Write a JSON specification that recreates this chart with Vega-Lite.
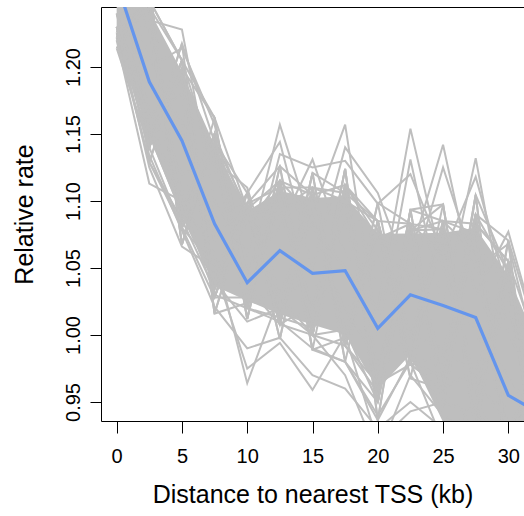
{
"$schema": "https://vega.github.io/schema/vega-lite/v6.json",
"usermeta": {"embedOptions": {"actions": false}},
"autosize": {"type": "none"},
"padding": {"left": 101, "top": 7, "right": 0, "bottom": 95},
"width": 423,
"height": 414,
"background": "white",
"config": {"view": {"stroke": null}, "font": "Liberation Sans"},
"datasets": {
"core": [
{"x":0,"lo":1.2275,"hi":1.2945},{"x":2.5,"lo":1.1477,"hi":1.2423},{"x":5,"lo":1.0888,"hi":1.1963},{"x":7.5,"lo":1.0365,"hi":1.1415},{"x":10,"lo":1.0255,"hi":1.0925},{"x":12.5,"lo":1.0155,"hi":1.1075},{"x":15,"lo":1.0077,"hi":1.1023},{"x":17.5,"lo":1.0004,"hi":1.1036},{"x":20,"lo":0.9595,"hi":1.0756},{"x":22.5,"lo":0.9854,"hi":1.0757},{"x":25,"lo":0.935,"hi":1.0763},{"x":27.5,"lo":0.925,"hi":1.0799},{"x":30,"lo":0.880,"hi":1.0442},{"x":32.5,"lo":0.860,"hi":0.987}
],
"est": [
{"x":0,"y":1.263},{"x":2.5,"y":1.189},{"x":5,"y":1.145},{"x":7.5,"y":1.083},{"x":10,"y":1.039},{"x":12.5,"y":1.063},{"x":15,"y":1.046},{"x":17.5,"y":1.048},{"x":20,"y":1.005},{"x":22.5,"y":1.030},{"x":25,"y":1.022},{"x":27.5,"y":1.013},{"x":30,"y":0.955},{"x":32.5,"y":0.941}
],
"reps": [
{"r":1,"x":0,"y":1.300},{"r":1,"x":2.5,"y":1.140},{"r":1,"x":5,"y":1.2175},{"r":1,"x":7.5,"y":1.034},{"r":1,"x":10,"y":1.098},{"r":1,"x":12.5,"y":1.110},{"r":1,"x":15,"y":1.000},{"r":1,"x":17.5,"y":1.124},{"r":1,"x":20,"y":0.9365},{"r":1,"x":22.5,"y":1.083},{"r":1,"x":25,"y":0.966},{"r":1,"x":27.5,"y":1.090},{"r":1,"x":30,"y":0.900},{"r":1,"x":32.5,"y":0.989},
{"r":2,"x":0,"y":1.222},{"r":2,"x":2.5,"y":1.250},{"r":2,"x":5,"y":1.086},{"r":2,"x":7.5,"y":1.150},{"r":2,"x":10,"y":1.012},{"r":2,"x":12.5,"y":1.126},{"r":2,"x":15,"y":1.1045},{"r":2,"x":17.5,"y":0.992},{"r":2,"x":20,"y":1.085},{"r":2,"x":22.5,"y":0.983},{"r":2,"x":25,"y":1.0975},{"r":2,"x":27.5,"y":0.945},{"r":2,"x":30,"y":1.055},{"r":2,"x":32.5,"y":0.880},
{"r":3,"x":0,"y":1.296},{"r":3,"x":2.5,"y":1.261},{"r":3,"x":5,"y":1.080},{"r":3,"x":7.5,"y":1.028},{"r":3,"x":10,"y":1.106},{"r":3,"x":12.5,"y":1.008},{"r":3,"x":15,"y":1.110},{"r":3,"x":17.5,"y":0.998},{"r":3,"x":20,"y":1.078},{"r":3,"x":22.5,"y":0.9675},{"r":3,"x":25,"y":1.085},{"r":3,"x":27.5,"y":1.083},{"r":3,"x":30,"y":0.8845},{"r":3,"x":32.5,"y":0.995},
{"r":4,"x":0,"y":1.226},{"r":4,"x":2.5,"y":1.129},{"r":4,"x":5,"y":1.205},{"r":4,"x":7.5,"y":1.162},{"r":4,"x":10,"y":1.024},{"r":4,"x":12.5,"y":1.115},{"r":4,"x":15,"y":0.989},{"r":4,"x":17.5,"y":1.106},{"r":4,"x":20,"y":0.950},{"r":4,"x":22.5,"y":1.0935},{"r":4,"x":25,"y":0.960},{"r":4,"x":27.5,"y":0.9305},{"r":4,"x":30,"y":1.047},{"r":4,"x":32.5,"y":0.886},
{"r":5,"x":0,"y":1.308},{"r":5,"x":2.5,"y":1.1455},{"r":5,"x":5,"y":1.199},{"r":5,"x":7.5,"y":1.016},{"r":5,"x":10,"y":1.094},{"r":5,"x":12.5,"y":1.013},{"r":5,"x":15,"y":1.121},{"r":5,"x":17.5,"y":0.992},{"r":5,"x":20,"y":1.0985},{"r":5,"x":22.5,"y":1.083},{"r":5,"x":25,"y":0.9475},{"r":5,"x":27.5,"y":1.1045},{"r":5,"x":30,"y":0.908},{"r":5,"x":32.5,"y":1.0065},
{"r":6,"x":0,"y":1.214},{"r":6,"x":2.5,"y":1.2445},{"r":6,"x":5,"y":1.0675},{"r":6,"x":7.5,"y":1.144},{"r":6,"x":10,"y":1.020},{"r":6,"x":12.5,"y":1.126},{"r":6,"x":15,"y":1.0055},{"r":6,"x":17.5,"y":1.112},{"r":6,"x":20,"y":0.957},{"r":6,"x":22.5,"y":1.078},{"r":6,"x":25,"y":1.079},{"r":6,"x":27.5,"y":0.945},{"r":6,"x":30,"y":1.0705},{"r":6,"x":32.5,"y":0.8685},
{"r":7,"x":0,"y":1.300},{"r":7,"x":2.5,"y":1.140},{"r":7,"x":5,"y":1.205},{"r":7,"x":7.5,"y":1.028},{"r":7,"x":10,"y":1.098},{"r":7,"x":12.5,"y":0.997},{"r":7,"x":15,"y":1.110},{"r":7,"x":17.5,"y":0.980},{"r":7,"x":20,"y":1.085},{"r":7,"x":22.5,"y":0.978},{"r":7,"x":25,"y":1.085},{"r":7,"x":27.5,"y":0.952},{"r":7,"x":30,"y":1.055},{"r":7,"x":32.5,"y":0.880},
{"r":8,"x":0,"y":1.222},{"r":8,"x":2.5,"y":1.261},{"r":8,"x":5,"y":1.080},{"r":8,"x":7.5,"y":1.150},{"r":8,"x":10,"y":1.020},{"r":8,"x":12.5,"y":1.115},{"r":8,"x":15,"y":1.000},{"r":8,"x":17.5,"y":1.112},{"r":8,"x":20,"y":0.950},{"r":8,"x":22.5,"y":1.0935},{"r":8,"x":25,"y":0.960},{"r":8,"x":27.5,"y":1.090},{"r":8,"x":30,"y":0.900},{"r":8,"x":32.5,"y":0.995},
{"r":9,"x":0,"y":1.296},{"r":9,"x":2.5,"y":1.129},{"r":9,"x":5,"y":1.086},{"r":9,"x":7.5,"y":1.144},{"r":9,"x":10,"y":1.106},{"r":9,"x":12.5,"y":1.013},{"r":9,"x":15,"y":1.0055},{"r":9,"x":17.5,"y":1.124},{"r":9,"x":20,"y":0.9365},{"r":9,"x":22.5,"y":0.983},{"r":9,"x":25,"y":1.079},{"r":9,"x":27.5,"y":0.9305},{"r":9,"x":30,"y":1.0705},{"r":9,"x":32.5,"y":0.989},
{"r":10,"x":0,"y":1.226},{"r":10,"x":2.5,"y":1.250},{"r":10,"x":5,"y":1.205},{"r":10,"x":7.5,"y":1.016},{"r":10,"x":10,"y":1.024},{"r":10,"x":12.5,"y":1.110},{"r":10,"x":15,"y":1.110},{"r":10,"x":17.5,"y":0.998},{"r":10,"x":20,"y":1.085},{"r":10,"x":22.5,"y":1.083},{"r":10,"x":25,"y":0.966},{"r":10,"x":27.5,"y":1.1045},{"r":10,"x":30,"y":0.908},{"r":10,"x":32.5,"y":0.8685},
{"r":11,"x":0,"y":1.308},{"r":11,"x":2.5,"y":1.2445},{"r":11,"x":5,"y":1.0675},{"r":11,"x":7.5,"y":1.150},{"r":11,"x":10,"y":1.012},{"r":11,"x":12.5,"y":1.115},{"r":11,"x":15,"y":1.000},{"r":11,"x":17.5,"y":0.992},{"r":11,"x":20,"y":0.957},{"r":11,"x":22.5,"y":1.0935},{"r":11,"x":25,"y":1.0975},{"r":11,"x":27.5,"y":0.952},{"r":11,"x":30,"y":0.900},{"r":11,"x":32.5,"y":0.995},
{"r":12,"x":0,"y":1.214},{"r":12,"x":2.5,"y":1.140},{"r":12,"x":5,"y":1.2175},{"r":12,"x":7.5,"y":1.144},{"r":12,"x":10,"y":1.094},{"r":12,"x":12.5,"y":1.008},{"r":12,"x":15,"y":1.1045},{"r":12,"x":17.5,"y":1.112},{"r":12,"x":20,"y":1.078},{"r":12,"x":22.5,"y":0.978},{"r":12,"x":25,"y":0.960},{"r":12,"x":27.5,"y":1.090},{"r":12,"x":30,"y":1.047},{"r":12,"x":32.5,"y":0.886},
{"r":13,"x":0,"y":1.300},{"r":13,"x":2.5,"y":1.250},{"r":13,"x":5,"y":1.086},{"r":13,"x":7.5,"y":1.034},{"r":13,"x":10,"y":1.098},{"r":13,"x":12.5,"y":1.126},{"r":13,"x":15,"y":0.989},{"r":13,"x":17.5,"y":0.980},{"r":13,"x":20,"y":0.9365},{"r":13,"x":22.5,"y":1.078},{"r":13,"x":25,"y":1.085},{"r":13,"x":27.5,"y":0.945},{"r":13,"x":30,"y":0.8845},{"r":13,"x":32.5,"y":1.0065},
{"r":14,"x":0,"y":1.222},{"r":14,"x":2.5,"y":1.1455},{"r":14,"x":5,"y":1.199},{"r":14,"x":7.5,"y":1.162},{"r":14,"x":10,"y":1.020},{"r":14,"x":12.5,"y":1.013},{"r":14,"x":15,"y":1.121},{"r":14,"x":17.5,"y":1.106},{"r":14,"x":20,"y":1.085},{"r":14,"x":22.5,"y":0.983},{"r":14,"x":25,"y":0.9475},{"r":14,"x":27.5,"y":1.083},{"r":14,"x":30,"y":1.055},{"r":14,"x":32.5,"y":0.880},
{"r":15,"x":0,"y":1.296},{"r":15,"x":2.5,"y":1.140},{"r":15,"x":5,"y":1.205},{"r":15,"x":7.5,"y":1.028},{"r":15,"x":10,"y":1.094},{"r":15,"x":12.5,"y":1.008},{"r":15,"x":15,"y":1.000},{"r":15,"x":17.5,"y":1.124},{"r":15,"x":20,"y":0.957},{"r":15,"x":22.5,"y":1.083},{"r":15,"x":25,"y":1.079},{"r":15,"x":27.5,"y":0.9305},{"r":15,"x":30,"y":0.908},{"r":15,"x":32.5,"y":0.989},
{"r":16,"x":0,"y":1.226},{"r":16,"x":2.5,"y":1.261},{"r":16,"x":5,"y":1.080},{"r":16,"x":7.5,"y":1.144},{"r":16,"x":10,"y":1.024},{"r":16,"x":12.5,"y":1.115},{"r":16,"x":15,"y":1.1045},{"r":16,"x":17.5,"y":0.992},{"r":16,"x":20,"y":1.0985},{"r":16,"x":22.5,"y":0.978},{"r":16,"x":25,"y":0.960},{"r":16,"x":27.5,"y":1.090},{"r":16,"x":30,"y":1.0705},{"r":16,"x":32.5,"y":0.886},
{"r":17,"x":0,"y":1.308},{"r":17,"x":2.5,"y":1.129},{"r":17,"x":5,"y":1.199},{"r":17,"x":7.5,"y":1.016},{"r":17,"x":10,"y":1.098},{"r":17,"x":12.5,"y":0.997},{"r":17,"x":15,"y":1.110},{"r":17,"x":17.5,"y":1.106},{"r":17,"x":20,"y":0.950},{"r":17,"x":22.5,"y":1.0935},{"r":17,"x":25,"y":1.085},{"r":17,"x":27.5,"y":0.945},{"r":17,"x":30,"y":0.900},{"r":17,"x":32.5,"y":0.995},
{"r":18,"x":0,"y":1.214},{"r":18,"x":2.5,"y":1.250},{"r":18,"x":5,"y":1.0675},{"r":18,"x":7.5,"y":1.150},{"r":18,"x":10,"y":1.012},{"r":18,"x":12.5,"y":1.110},{"r":18,"x":15,"y":0.989},{"r":18,"x":17.5,"y":0.998},{"r":18,"x":20,"y":1.078},{"r":18,"x":22.5,"y":0.983},{"r":18,"x":25,"y":0.966},{"r":18,"x":27.5,"y":1.1045},{"r":18,"x":30,"y":1.047},{"r":18,"x":32.5,"y":0.8685},
{"r":19,"x":0,"y":1.300},{"r":19,"x":2.5,"y":1.2445},{"r":19,"x":5,"y":1.205},{"r":19,"x":7.5,"y":1.034},{"r":19,"x":10,"y":1.106},{"r":19,"x":12.5,"y":1.008},{"r":19,"x":15,"y":1.121},{"r":19,"x":17.5,"y":0.980},{"r":19,"x":20,"y":0.950},{"r":19,"x":22.5,"y":1.078},{"r":19,"x":25,"y":1.0975},{"r":19,"x":27.5,"y":0.952},{"r":19,"x":30,"y":0.8845},{"r":19,"x":32.5,"y":0.989},
{"r":20,"x":0,"y":1.222},{"r":20,"x":2.5,"y":1.129},{"r":20,"x":5,"y":1.080},{"r":20,"x":7.5,"y":1.162},{"r":20,"x":10,"y":1.094},{"r":20,"x":12.5,"y":1.115},{"r":20,"x":15,"y":1.000},{"r":20,"x":17.5,"y":1.112},{"r":20,"x":20,"y":1.085},{"r":20,"x":22.5,"y":0.9675},{"r":20,"x":25,"y":0.960},{"r":20,"x":27.5,"y":1.083},{"r":20,"x":30,"y":1.055},{"r":20,"x":32.5,"y":0.880},
{"r":21,"x":0,"y":1.27},{"r":21,"x":2.5,"y":1.235},{"r":21,"x":5,"y":1.228},{"r":21,"x":7.5,"y":1.10},{"r":21,"x":10,"y":1.06},{"r":21,"x":12.5,"y":1.157},{"r":21,"x":15,"y":1.08},{"r":21,"x":17.5,"y":1.05},{"r":21,"x":20,"y":1.02},{"r":21,"x":22.5,"y":1.154},{"r":21,"x":25,"y":1.05},{"r":21,"x":27.5,"y":1.00},{"r":21,"x":30,"y":0.97},{"r":21,"x":32.5,"y":0.93},
{"r":22,"x":0,"y":1.25},{"r":22,"x":2.5,"y":1.20},{"r":22,"x":5,"y":1.214},{"r":22,"x":7.5,"y":1.157},{"r":22,"x":10,"y":1.05},{"r":22,"x":12.5,"y":1.08},{"r":22,"x":15,"y":1.131},{"r":22,"x":17.5,"y":1.06},{"r":22,"x":20,"y":1.04},{"r":22,"x":22.5,"y":1.06},{"r":22,"x":25,"y":1.142},{"r":22,"x":27.5,"y":1.03},{"r":22,"x":30,"y":1.077},{"r":22,"x":32.5,"y":0.99},
{"r":23,"x":0,"y":1.24},{"r":23,"x":2.5,"y":1.17},{"r":23,"x":5,"y":1.12},{"r":23,"x":7.5,"y":1.13},{"r":23,"x":10,"y":1.110},{"r":23,"x":12.5,"y":1.03},{"r":23,"x":15,"y":1.09},{"r":23,"x":17.5,"y":1.157},{"r":23,"x":20,"y":1.00},{"r":23,"x":22.5,"y":1.131},{"r":23,"x":25,"y":1.02},{"r":23,"x":27.5,"y":1.132},{"r":23,"x":30,"y":1.00},{"r":23,"x":32.5,"y":0.96},
{"r":24,"x":0,"y":1.23},{"r":24,"x":2.5,"y":1.19},{"r":24,"x":5,"y":1.16},{"r":24,"x":7.5,"y":1.07},{"r":24,"x":10,"y":1.106},{"r":24,"x":12.5,"y":1.144},{"r":24,"x":15,"y":1.05},{"r":24,"x":17.5,"y":1.140},{"r":24,"x":20,"y":1.106},{"r":24,"x":22.5,"y":1.04},{"r":24,"x":25,"y":1.125},{"r":24,"x":27.5,"y":1.05},{"r":24,"x":30,"y":1.068},{"r":24,"x":32.5,"y":0.97},
{"r":25,"x":0,"y":1.26},{"r":25,"x":2.5,"y":1.21},{"r":25,"x":5,"y":1.15},{"r":25,"x":7.5,"y":1.09},{"r":25,"x":10,"y":1.04},{"r":25,"x":12.5,"y":1.135},{"r":25,"x":15,"y":1.125},{"r":25,"x":17.5,"y":1.13},{"r":25,"x":20,"y":1.098},{"r":25,"x":22.5,"y":1.12},{"r":25,"x":25,"y":1.06},{"r":25,"x":27.5,"y":1.118},{"r":25,"x":30,"y":1.03},{"r":25,"x":32.5,"y":0.98},
{"r":26,"x":0,"y":1.22},{"r":26,"x":2.5,"y":1.113},{"r":26,"x":5,"y":1.10},{"r":26,"x":7.5,"y":1.06},{"r":26,"x":10,"y":0.964},{"r":26,"x":12.5,"y":1.03},{"r":26,"x":15,"y":1.04},{"r":26,"x":17.5,"y":1.02},{"r":26,"x":20,"y":0.98},{"r":26,"x":22.5,"y":1.00},{"r":26,"x":25,"y":0.99},{"r":26,"x":27.5,"y":0.97},{"r":26,"x":30,"y":0.93},{"r":26,"x":32.5,"y":0.89},
{"r":27,"x":0,"y":1.23},{"r":27,"x":2.5,"y":1.125},{"r":27,"x":5,"y":1.066},{"r":27,"x":7.5,"y":1.05},{"r":27,"x":10,"y":0.975},{"r":27,"x":12.5,"y":0.994},{"r":27,"x":15,"y":0.959},{"r":27,"x":17.5,"y":1.00},{"r":27,"x":20,"y":0.92},{"r":27,"x":22.5,"y":0.943},{"r":27,"x":25,"y":0.95},{"r":27,"x":27.5,"y":0.94},{"r":27,"x":30,"y":0.90},{"r":27,"x":32.5,"y":0.87},
{"r":28,"x":0,"y":1.24},{"r":28,"x":2.5,"y":1.134},{"r":28,"x":5,"y":1.078},{"r":28,"x":7.5,"y":1.021},{"r":28,"x":10,"y":0.99},{"r":28,"x":12.5,"y":0.998},{"r":28,"x":15,"y":0.97},{"r":28,"x":17.5,"y":0.960},{"r":28,"x":20,"y":0.93},{"r":28,"x":22.5,"y":0.95},{"r":28,"x":25,"y":0.93},{"r":28,"x":27.5,"y":0.92},{"r":28,"x":30,"y":0.88},{"r":28,"x":32.5,"y":0.86},
{"r":29,"x":0,"y":1.225},{"r":29,"x":2.5,"y":1.15},{"r":29,"x":5,"y":1.09},{"r":29,"x":7.5,"y":1.04},{"r":29,"x":10,"y":1.01},{"r":29,"x":12.5,"y":1.02},{"r":29,"x":15,"y":1.00},{"r":29,"x":17.5,"y":0.970},{"r":29,"x":20,"y":0.91},{"r":29,"x":22.5,"y":0.97},{"r":29,"x":25,"y":0.94},{"r":29,"x":27.5,"y":0.93},{"r":29,"x":30,"y":0.89},{"r":29,"x":32.5,"y":0.88},
{"r":30,"x":0,"y":1.23},{"r":30,"x":2.5,"y":1.16},{"r":30,"x":5,"y":1.10},{"r":30,"x":7.5,"y":1.03},{"r":30,"x":10,"y":1.02},{"r":30,"x":12.5,"y":1.01},{"r":30,"x":15,"y":0.99},{"r":30,"x":17.5,"y":0.98},{"r":30,"x":20,"y":0.94},{"r":30,"x":22.5,"y":0.98},{"r":30,"x":25,"y":0.92},{"r":30,"x":27.5,"y":0.95},{"r":30,"x":30,"y":0.91},{"r":30,"x":32.5,"y":0.90},
{"r":31,"x":0,"y":1.222},{"r":31,"x":2.5,"y":1.239},{"r":31,"x":5,"y":1.093},{"r":31,"x":7.5,"y":1.150},{"r":31,"x":10,"y":1.020},{"r":31,"x":12.5,"y":1.104},{"r":31,"x":15,"y":1.011},{"r":31,"x":17.5,"y":1.112},{"r":31,"x":20,"y":0.950},{"r":31,"x":22.5,"y":1.073},{"r":31,"x":25,"y":0.973},{"r":31,"x":27.5,"y":1.090},{"r":31,"x":30,"y":0.900},{"r":31,"x":32.5,"y":0.984},
{"r":32,"x":0,"y":1.300},{"r":32,"x":2.5,"y":1.151},{"r":32,"x":5,"y":1.193},{"r":32,"x":7.5,"y":1.028},{"r":32,"x":10,"y":1.098},{"r":32,"x":12.5,"y":1.019},{"r":32,"x":15,"y":1.099},{"r":32,"x":17.5,"y":0.992},{"r":32,"x":20,"y":1.085},{"r":32,"x":22.5,"y":0.989},{"r":32,"x":25,"y":1.073},{"r":32,"x":27.5,"y":0.945},{"r":32,"x":30,"y":1.055},{"r":32,"x":32.5,"y":0.892},
{"r":33,"x":0,"y":1.230},{"r":33,"x":2.5,"y":1.140},{"r":33,"x":5,"y":1.205},{"r":33,"x":7.5,"y":1.126},{"r":33,"x":10,"y":1.036},{"r":33,"x":12.5,"y":1.008},{"r":33,"x":15,"y":1.110},{"r":33,"x":17.5,"y":1.100},{"r":33,"x":20,"y":0.964},{"r":33,"x":22.5,"y":0.978},{"r":33,"x":25,"y":1.085},{"r":33,"x":27.5,"y":1.061},{"r":33,"x":30,"y":0.916},{"r":33,"x":32.5,"y":0.995},
{"r":34,"x":0,"y":1.292},{"r":34,"x":2.5,"y":1.250},{"r":34,"x":5,"y":1.080},{"r":34,"x":7.5,"y":1.052},{"r":34,"x":10,"y":1.082},{"r":34,"x":12.5,"y":1.115},{"r":34,"x":15,"y":1.000},{"r":34,"x":17.5,"y":1.004},{"r":34,"x":20,"y":1.072},{"r":34,"x":22.5,"y":1.083},{"r":34,"x":25,"y":0.960},{"r":34,"x":27.5,"y":0.974},{"r":34,"x":30,"y":1.040},{"r":34,"x":32.5,"y":0.880},
{"r":35,"x":0,"y":1.238},{"r":35,"x":2.5,"y":1.228},{"r":35,"x":5,"y":1.105},{"r":35,"x":7.5,"y":1.138},{"r":35,"x":10,"y":1.028},{"r":35,"x":12.5,"y":1.094},{"r":35,"x":15,"y":1.022},{"r":35,"x":17.5,"y":1.088},{"r":35,"x":20,"y":0.977},{"r":35,"x":22.5,"y":1.062},{"r":35,"x":25,"y":0.973},{"r":35,"x":27.5,"y":1.076},{"r":35,"x":30,"y":0.931},{"r":35,"x":32.5,"y":0.972},
{"r":36,"x":0,"y":1.284},{"r":36,"x":2.5,"y":1.162},{"r":36,"x":5,"y":1.180},{"r":36,"x":7.5,"y":1.040},{"r":36,"x":10,"y":1.090},{"r":36,"x":12.5,"y":1.029},{"r":36,"x":15,"y":1.088},{"r":36,"x":17.5,"y":1.016},{"r":36,"x":20,"y":1.058},{"r":36,"x":22.5,"y":0.999},{"r":36,"x":25,"y":1.073},{"r":36,"x":27.5,"y":0.960},{"r":36,"x":30,"y":1.024},{"r":36,"x":32.5,"y":0.903},
{"r":37,"x":0,"y":1.222},{"r":37,"x":2.5,"y":1.250},{"r":37,"x":5,"y":1.205},{"r":37,"x":7.5,"y":1.028},{"r":37,"x":10,"y":1.028},{"r":37,"x":12.5,"y":1.029},{"r":37,"x":15,"y":1.000},{"r":37,"x":17.5,"y":1.112},{"r":37,"x":20,"y":1.072},{"r":37,"x":22.5,"y":0.978},{"r":37,"x":25,"y":0.985},{"r":37,"x":27.5,"y":1.090},{"r":37,"x":30,"y":0.900},{"r":37,"x":32.5,"y":0.892},
{"r":38,"x":0,"y":1.300},{"r":38,"x":2.5,"y":1.140},{"r":38,"x":5,"y":1.080},{"r":38,"x":7.5,"y":1.150},{"r":38,"x":10,"y":1.090},{"r":38,"x":12.5,"y":1.094},{"r":38,"x":15,"y":1.110},{"r":38,"x":17.5,"y":0.992},{"r":38,"x":20,"y":0.964},{"r":38,"x":22.5,"y":1.083},{"r":38,"x":25,"y":1.060},{"r":38,"x":27.5,"y":0.945},{"r":38,"x":30,"y":1.055},{"r":38,"x":32.5,"y":0.984},
{"r":39,"x":0,"y":1.230},{"r":39,"x":2.5,"y":1.162},{"r":39,"x":5,"y":1.193},{"r":39,"x":7.5,"y":1.138},{"r":39,"x":10,"y":1.020},{"r":39,"x":12.5,"y":1.115},{"r":39,"x":15,"y":1.088},{"r":39,"x":17.5,"y":1.004},{"r":39,"x":20,"y":0.950},{"r":39,"x":22.5,"y":1.062},{"r":39,"x":25,"y":0.960},{"r":39,"x":27.5,"y":0.960},{"r":39,"x":30,"y":1.040},{"r":39,"x":32.5,"y":0.880},
{"r":40,"x":0,"y":1.292},{"r":40,"x":2.5,"y":1.228},{"r":40,"x":5,"y":1.093},{"r":40,"x":7.5,"y":1.040},{"r":40,"x":10,"y":1.098},{"r":40,"x":12.5,"y":1.008},{"r":40,"x":15,"y":1.022},{"r":40,"x":17.5,"y":1.100},{"r":40,"x":20,"y":1.085},{"r":40,"x":22.5,"y":0.999},{"r":40,"x":25,"y":1.085},{"r":40,"x":27.5,"y":1.076},{"r":40,"x":30,"y":0.916},{"r":40,"x":32.5,"y":0.995}
]
},
"layer": [
{
"data": {"name": "core"},
"mark": {"type": "area", "color": "#BEBEBE", "opacity": 1, "clip": true},
"encoding": {
"x": {"field": "x", "type": "quantitative", "scale": {"domain": [-1.2, 31.2], "nice": false, "zero": false},
"axis": {"values": [0, 5, 10, 15, 20, 25, 30], "grid": false, "domainColor": "black", "domainWidth": 1, "tickColor": "black", "tickWidth": 1, "tickSize": 12, "labelFont": "Liberation Sans", "labelFontSize": 20, "labelColor": "black", "labelBaseline": "alphabetic", "labelPadding": 29, "labelFlush": false, "labelOverlap": false, "labelBound": false, "title": "Distance to nearest TSS (kb)", "titleFont": "Liberation Sans", "titleFontSize": 25, "titleFontWeight": "normal", "titleColor": "black", "titleBaseline": "alphabetic", "titleY": 81}},
"y": {"field": "lo", "type": "quantitative", "title": "Relative rate", "scale": {"domain": [0.93582, 1.24478], "nice": false, "zero": false},
"axis": {"values": [0.95, 1.0, 1.05, 1.1, 1.15, 1.2], "format": ".2f", "grid": false, "domainColor": "black", "domainWidth": 1, "tickColor": "black", "tickWidth": 1, "tickSize": 11, "labelFont": "Liberation Sans", "labelFontSize": 20, "labelColor": "black", "labelAngle": -90, "labelAlign": "center", "labelBaseline": "alphabetic", "labelPadding": 11, "labelFlush": false, "labelOverlap": false, "labelBound": false, "titleFont": "Liberation Sans", "titleFontSize": 25, "titleFontWeight": "normal", "titleColor": "black", "titleAngle": -90, "titleAlign": "center", "titleBaseline": "alphabetic", "titleX": -69, "titleY": 207}},
"y2": {"field": "hi"}
}
},
{
"data": {"name": "reps"},
"mark": {"type": "line", "color": "#BEBEBE", "strokeWidth": 2, "clip": true},
"encoding": {
"x": {"field": "x", "type": "quantitative", "axis": null},
"y": {"field": "y", "type": "quantitative", "title": "Relative rate"},
"detail": {"field": "r", "type": "nominal"}
}
},
{
"data": {"name": "est"},
"mark": {"type": "line", "color": "#6495ED", "strokeWidth": 3.2, "clip": true},
"encoding": {
"x": {"field": "x", "type": "quantitative", "axis": {"orient": "top", "labels": false, "ticks": false, "domain": true, "domainColor": "black", "domainWidth": 1, "grid": false, "title": null}},
"y": {"field": "y", "type": "quantitative", "title": "Relative rate"}
}
}
],
"resolve": {"axis": {"x": "independent"}}
}
